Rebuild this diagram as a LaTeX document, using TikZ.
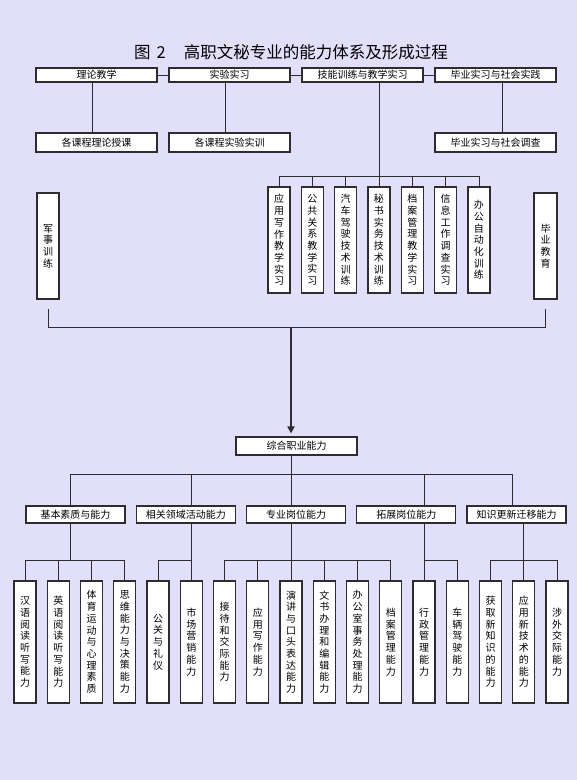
\documentclass[tikz,border=0pt]{standalone}
\usepackage{fontspec}
\setmainfont{Noto Sans CJK SC}
\usetikzlibrary{arrows.meta}
\definecolor{bg}{RGB}{226,223,250}
\definecolor{ln}{RGB}{45,45,45}
\begin{document}
\begin{tikzpicture}[x=1pt,y=-1pt,
  box/.style={draw=ln, line width=1.1pt, fill=white, inner sep=0pt, align=center,
    font=\fontsize{10}{11.7}\selectfont},
  topb/.style={box, minimum width=121pt, minimum height=14pt},
  secb/.style={box, minimum width=121pt, minimum height=19pt},
  vb/.style={box, minimum width=22pt, minimum height=106pt},
  zb/.style={box, minimum width=121pt, minimum height=18pt},
  lb/.style={box, minimum width=99pt, minimum height=17pt},
  bb/.style={box, minimum width=22pt, minimum height=122pt},
  conn/.style={draw=ln, line width=0.9pt},
  bigarrow/.style={draw=ln, line width=1.7pt, -{Triangle[length=7pt,width=7pt]}, shorten >=3pt}]
\fill[bg] (0,0) rectangle (577,780);
\useasboundingbox (0,0) rectangle (577,780);

\node[font=\fontsize{16.5}{18}\selectfont, inner sep=0pt] (title) at (291,52) {图\hspace{6pt}2\hspace{18pt}高职文秘专业的能力体系及形成过程};

% top rows
\node[topb] (t1) at (96.5,75) {理论教学};
\node[topb] (t2) at (229.5,75) {实验实习};
\node[topb] (t3) at (362.5,75) {技能训练与教学实习};
\node[topb] (t4) at (495.5,75) {毕业实习与社会实践};
\node[secb] (s1) at (96.5,142.5) {各课程理论授课};
\node[secb] (s2) at (229.5,142.5) {各课程实验实训};
\node[secb] (s4) at (495.5,142.5) {毕业实习与社会调查};

% vertical practice boxes
\foreach \t [count=\i] in {{应\\用\\写\\作\\教\\学\\实\\习},{公\\共\\关\\系\\教\\学\\实\\习},{汽\\车\\驾\\驶\\技\\术\\训\\练},{秘\\书\\实\\务\\技\\术\\训\\练},{档\\案\\管\\理\\教\\学\\实\\习},{信\\息\\工\\作\\调\\查\\实\\习},{办\\公\\自\\动\\化\\训\\练}}
  \node[vb] (v\i) at ({279+33.33*(\i-1)},240) {\t};

\node[vb] (mil) at (48,246) {军\\事\\训\\练};
\node[vb, minimum width=23pt] (grad) at (545.5,246) {毕\\业\\教\\育};

% integrated ability
\node[zb] (zh) at (296.5,446) {综合职业能力};

% level boxes
\node[lb] (l1) at (75.5,514.5) {基本素质与能力};
\node[lb] (l2) at (185.75,514.5) {相关领域活动能力};
\node[lb] (l3) at (296,514.5) {专业岗位能力};
\node[lb] (l4) at (406.25,514.5) {拓展岗位能力};
\node[lb] (l5) at (516.5,514.5) {知识更新迁移能力};

% bottom boxes
\foreach \t [count=\i] in {{汉\\语\\阅\\读\\听\\写\\能\\力},{英\\语\\阅\\读\\听\\写\\能\\力},{体\\育\\运\\动\\与\\心\\理\\素\\质},{思\\维\\能\\力\\与\\决\\策\\能\\力},{公\\关\\与\\礼\\仪},{市\\场\\营\\销\\能\\力},{接\\待\\和\\交\\际\\能\\力},{应\\用\\写\\作\\能\\力},{演\\讲\\与\\口\\头\\表\\达\\能\\力},{文\\书\\办\\理\\和\\编\\辑\\能\\力},{办\\公\\室\\事\\务\\处\\理\\能\\力},{档\\案\\管\\理\\能\\力},{行\\政\\管\\理\\能\\力},{车\\辆\\驾\\驶\\能\\力},{获\\取\\新\\知\\识\\的\\能\\力},{应\\用\\新\\技\\术\\的\\能\\力},{涉\\外\\交\\际\\能\\力}}
  \node[bb] (b\i) at ({25+33.25*(\i-1)},642) {\t};

% connectors top
\draw[conn] (t1) -- (t2);
\draw[conn] (t2) -- (t3);
\draw[conn] (t3) -- (t4);
\draw[conn] ([xshift=-4.5pt]t1.south) -- ([xshift=-4.5pt]s1.north);
\draw[conn] ([xshift=-4.5pt]t2.south) -- ([xshift=-4.5pt]s2.north);
\draw[conn] ([xshift=6.5pt]t4.south) -- ([xshift=6.5pt]s4.north);
\coordinate (vbus) at (379,176);
\draw[conn] (t3.south -| v4.north) -- (v4.north);
\draw[conn] (v1.north) |- (v7.north |- vbus) -- (v7.north);
\foreach \i in {2,3,5,6}
  \draw[conn] (v\i.north) -- (v\i.north |- vbus);

% bracket and arrow
\coordinate (brk) at (291,327);
\draw[conn] ([yshift=-9pt]mil.south) -- (mil.south |- brk) -- (grad.south |- brk) -- ([yshift=-9pt]grad.south);
\draw[bigarrow] (brk) -- (brk |- zh.north);

% level bus
\coordinate (lbus) at (291,474);
\coordinate (d1) at (70,474);
\coordinate (d5) at (512,474);
\draw[conn] (zh.south -| brk) -- (lbus);
\draw[conn] (l1.north -| d1) -- (d1) -- (d5) -- (l5.north -| d5);
\draw[conn] (l2.north -| b6.north) -- (b6.north |- lbus);
\draw[conn] (l3.north -| brk) -- (lbus);
\draw[conn] (l4.north -| b13.north) -- (b13.north |- lbus);

% group buses
\coordinate (gbus) at (291,560);
\draw[conn] (l1.south -| d1) -- (d1 |- gbus);
\draw[conn] (b1.north) |- (b4.north |- gbus) -- (b4.north);
\foreach \i in {2,3}
  \draw[conn] (b\i.north) -- (b\i.north |- gbus);
\draw[conn] (l2.south -| b6.north) -- (b6.north);
\draw[conn] (b5.north) |- (b6.north |- gbus);
\draw[conn] (l3.south -| b9.north) -- (b9.north);
\draw[conn] (b7.north) |- (b12.north |- gbus) -- (b12.north);
\foreach \i in {8,10,11}
  \draw[conn] (b\i.north) -- (b\i.north |- gbus);
\draw[conn] (l4.south -| b13.north) -- (b13.north);
\draw[conn] (b14.north) |- (b13.north |- gbus);
\draw[conn] (l5.south -| b16.north) -- (b16.north);
\draw[conn] (b15.north) |- (b17.north |- gbus) -- (b17.north);
\end{tikzpicture}
\end{document}
